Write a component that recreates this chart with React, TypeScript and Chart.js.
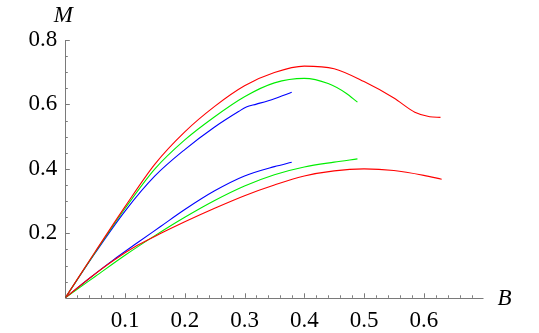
import React, { useEffect, useRef } from "react";
import { Chart, registerables } from "chart.js";

Chart.register(...registerables);

// Upper branch
const upperRedB = [0, 0.05, 0.1, 0.15, 0.2, 0.25, 0.3, 0.35, 0.4, 0.45, 0.5, 0.55, 0.585, 0.61, 0.628];
const upperRedM = [0, 0.143, 0.283, 0.415, 0.515, 0.594, 0.658, 0.699, 0.719, 0.711, 0.671, 0.62, 0.576, 0.562, 0.56];

const upperGreenB = [0, 0.05, 0.1, 0.15, 0.2, 0.25, 0.3, 0.35, 0.4, 0.44, 0.47, 0.489];
const upperGreenM = [0, 0.141, 0.277, 0.4, 0.49, 0.562, 0.624, 0.667, 0.681, 0.665, 0.635, 0.607];

const upperBlueB = [0, 0.05, 0.1, 0.15, 0.2, 0.25, 0.29, 0.303, 0.32, 0.35, 0.379];
const upperBlueM = [0, 0.139, 0.269, 0.378, 0.46, 0.53, 0.578, 0.592, 0.601, 0.618, 0.638];

// Lower branch
const lowerRedB = [0, 0.04, 0.08, 0.12, 0.16, 0.2, 0.25, 0.3, 0.35, 0.4, 0.45, 0.5, 0.55, 0.6, 0.63];
const lowerRedM = [0, 0.06, 0.115, 0.162, 0.2, 0.236, 0.278, 0.317, 0.35, 0.378, 0.394, 0.4, 0.395, 0.38, 0.368];

const lowerGreenB = [0, 0.05, 0.1, 0.15, 0.2, 0.25, 0.3, 0.35, 0.4, 0.45, 0.489];
const lowerGreenM = [0, 0.066, 0.132, 0.193, 0.25, 0.302, 0.347, 0.382, 0.406, 0.421, 0.431];

const lowerBlueB = [0, 0.04, 0.08, 0.12, 0.16, 0.2, 0.25, 0.3, 0.35, 0.379];
const lowerBlueM = [0, 0.06, 0.117, 0.17, 0.222, 0.274, 0.332, 0.378, 0.407, 0.4205];

const xTickLabels = [0.1, 0.2, 0.3, 0.4, 0.5, 0.6];
const yTickLabels = [0.2, 0.4, 0.6, 0.8];
const xAxisLabel = "B";
const yAxisLabel = "M";

const toPoints = (bs: number[], ms: number[]) => bs.map((b, i) => ({ x: b, y: ms[i] }));

const FONT = "'Liberation Serif', 'Times New Roman', serif";
Chart.defaults.font.family = FONT;
Chart.defaults.font.size = 23;

const axesPlugin = {
  id: "mmaAxes",
  beforeDatasetsDraw(chart: any) {
    const { ctx, scales } = chart;
    const xs = scales.x;
    const ys = scales.y;
    const x0 = xs.getPixelForValue(0);
    const y0 = ys.getPixelForValue(0);
    ctx.save();
    ctx.strokeStyle = "#7a7a7a";
    ctx.lineWidth = 1;
    ctx.beginPath();
    ctx.moveTo(xs.left, Math.round(y0) + 0.5);
    ctx.lineTo(xs.right, Math.round(y0) + 0.5);
    ctx.moveTo(Math.round(x0) + 0.5, ys.top);
    ctx.lineTo(Math.round(x0) + 0.5, ys.bottom);
    ctx.stroke();
    // x ticks (minor every 0.02, major every 0.1), pointing inward
    ctx.beginPath();
    for (let i = 1; i <= 34; i++) {
      const v = i * 0.02;
      const px = Math.round(xs.getPixelForValue(v)) + 0.5;
      const len = i % 5 === 0 ? 4.5 : 2.5;
      ctx.moveTo(px, y0);
      ctx.lineTo(px, y0 - len);
    }
    // y ticks (minor every 0.05, major every 0.2)
    for (let i = 1; i <= 16; i++) {
      const v = i * 0.05;
      const py = Math.round(ys.getPixelForValue(v)) + 0.5;
      const len = i % 4 === 0 ? 4.5 : 2.5;
      ctx.moveTo(x0, py);
      ctx.lineTo(x0 + len, py);
    }
    ctx.stroke();
    // axis labels
    ctx.fillStyle = "#000";
    ctx.font = `italic 23px ${FONT}`;
    ctx.textAlign = "center";
    ctx.textBaseline = "middle";
    ctx.fillText(yAxisLabel, x0 - 2, ys.top - 24);
    ctx.fillText(xAxisLabel, xs.right + 21, y0 + 1);
    ctx.restore();
  },
};

export default function App() {
  const ref = useRef<HTMLCanvasElement>(null);
  useEffect(() => {
    if (!ref.current) return;
    const mk = (b: number[], m: number[], color: string) => ({
      data: toPoints(b, m),
      borderColor: color,
      backgroundColor: color,
      borderWidth: 1.1,
      pointRadius: 0,
      showLine: true,
      fill: false,
      cubicInterpolationMode: "monotone" as const,
    });
    const chart = new Chart(ref.current, {
      type: "scatter",
      data: {
        datasets: [
          mk(upperRedB, upperRedM, "#ff0000"),
          mk(upperGreenB, upperGreenM, "#00ee00"),
          mk(upperBlueB, upperBlueM, "#0000ff"),
          mk(lowerRedB, lowerRedM, "#ff0000"),
          mk(lowerGreenB, lowerGreenM, "#00ee00"),
          mk(lowerBlueB, lowerBlueM, "#0000ff"),
        ],
      },
      options: {
        animation: false,
        responsive: false,
        layout: { padding: { left: 0, top: 40, right: 55.5, bottom: 0 } },
        plugins: { legend: { display: false }, tooltip: { enabled: false } },
        scales: {
          x: {
            type: "linear",
            min: 0,
            max: 0.7,
            grid: { display: false, drawTicks: false },
            border: { display: false },
            afterFit: (s: any) => {
              s.height = 35.2;
            },
            afterBuildTicks: (s: any) => {
              s.ticks = xTickLabels.map((v) => ({ value: v }));
            },
            ticks: {
              padding: 9,
              color: "#000",
              font: { family: FONT, size: 23 },
              maxRotation: 0,
              autoSkip: false,
              callback: (v: any) => Number(v).toFixed(1),
            },
          },
          y: {
            type: "linear",
            min: 0,
            max: 0.8,
            grid: { display: false, drawTicks: false },
            border: { display: false },
            afterFit: (s: any) => {
              s.width = 65.3;
            },
            afterBuildTicks: (s: any) => {
              s.ticks = yTickLabels.map((v) => ({ value: v }));
            },
            ticks: {
              padding: 8,
              color: "#000",
              font: { family: FONT, size: 23 },
              autoSkip: false,
              callback: (v: any) => Number(v).toFixed(1),
            },
          },
        },
      },
      plugins: [axesPlugin],
    });
    return () => chart.destroy();
  }, []);
  return (
    <div style={{ position: "absolute", left: 0, top: 0, width: 539, height: 333, background: "#fff" }}>
      <canvas ref={ref} width={539} height={333} style={{ display: "block" }} />
    </div>
  );
}
